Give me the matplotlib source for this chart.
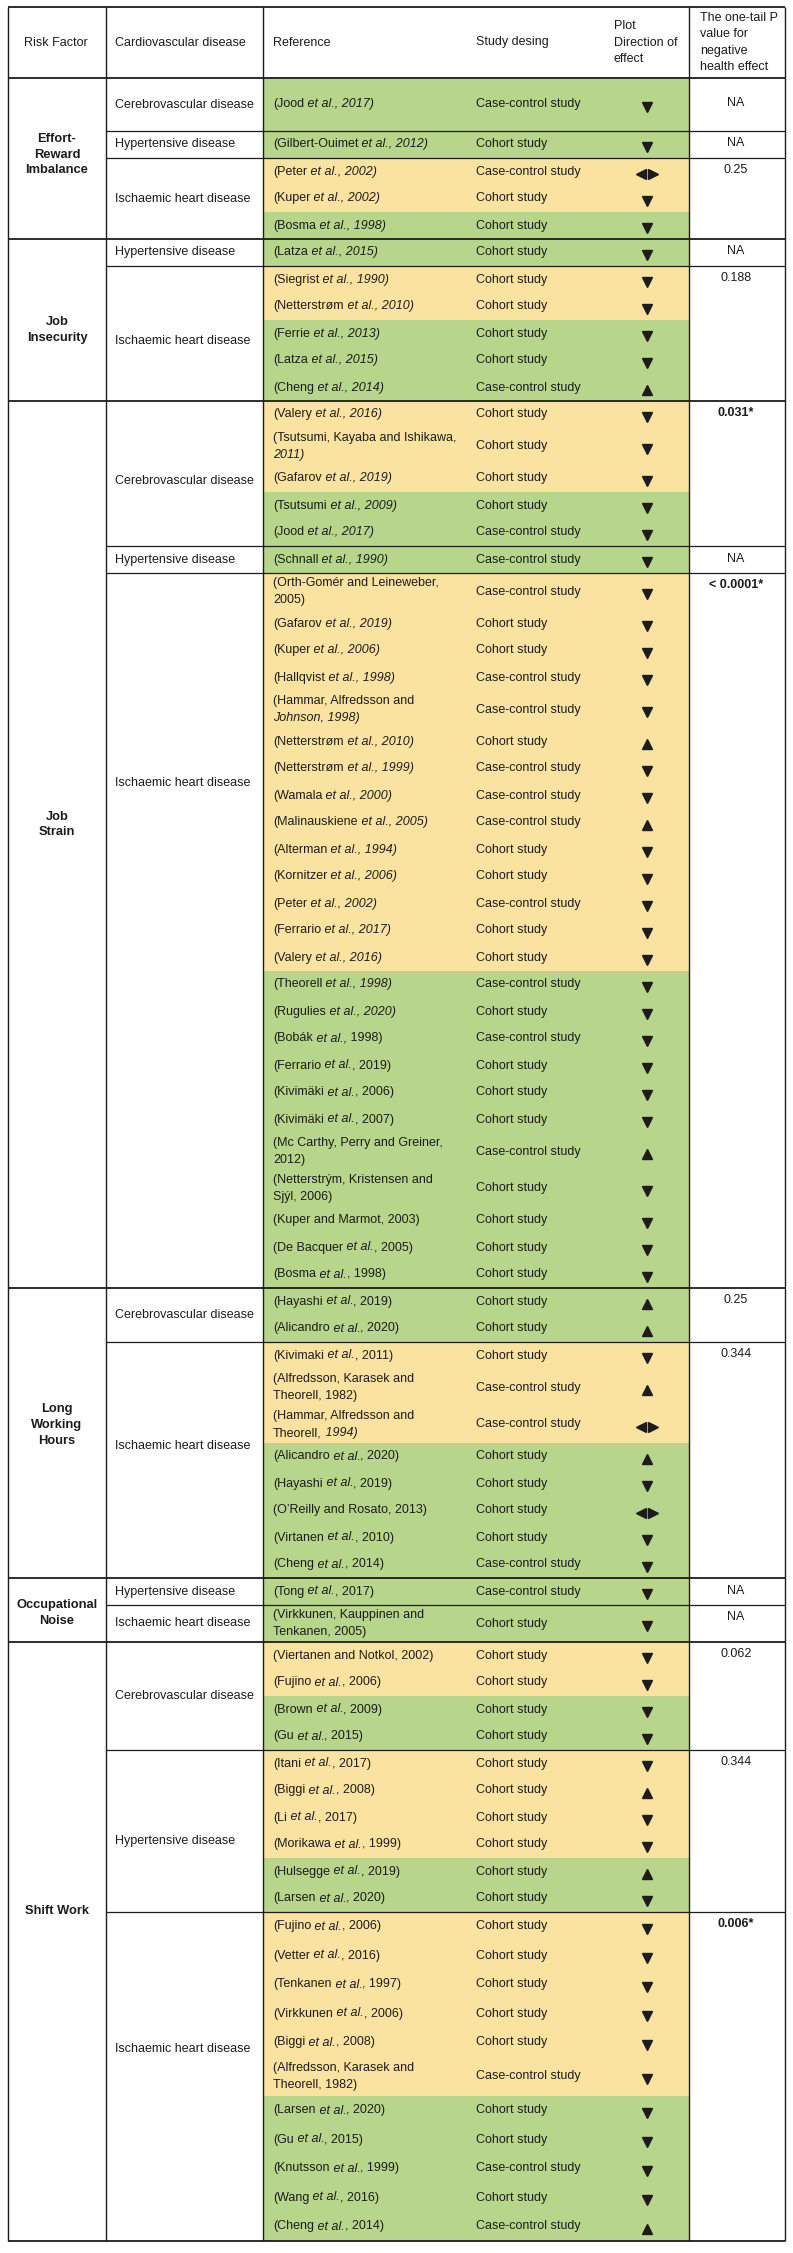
"""Evidence table: psychosocial work risk factors vs cardiovascular disease."""

import matplotlib

matplotlib.use("Agg")  # headless backend

import matplotlib.pyplot as plt  # noqa: E402

plt.rcParams["font.family"] = ["Liberation Sans", "DejaVu Sans"]

# ---------------------------------------------------------------- data
HEADERS = ["Risk Factor", "Cardiovascular disease", "Reference", "Study desing",
           "Plot\nDirection of\neffect", "The one-tail P\nvalue for\nnegative\nhealth effect"]

RISK_FACTORS = ["Effort-\nReward\nImbalance", "Job\nInsecurity", "Job\nStrain",
                "Long\nWorking\nHours", "Occupational\nNoise", "Shift Work"]

# one entry per (risk factor, disease) block
GROUP_RISK = [0, 0, 0, 1, 1, 2, 2, 2, 3, 3, 4, 4, 5, 5, 5]
GROUP_DISEASE = [
    "Cerebrovascular disease", "Hypertensive disease", "Ischaemic heart disease",
    "Hypertensive disease", "Ischaemic heart disease",
    "Cerebrovascular disease", "Hypertensive disease", "Ischaemic heart disease",
    "Cerebrovascular disease", "Ischaemic heart disease",
    "Hypertensive disease", "Ischaemic heart disease",
    "Cerebrovascular disease", "Hypertensive disease", "Ischaemic heart disease",
]
GROUP_P_VALUE = ["NA", "NA", "0.25", "NA", "0.188", "0.031*", "NA", "< 0.0001*",
                 "0.25", "0.344", "NA", "NA", "0.062", "0.344", "0.006*"]
GROUP_SIZE = [1, 1, 3, 1, 5, 5, 1, 25, 2, 8, 1, 1, 4, 6, 11]

# text between *...* is set in italics
REFERENCES = [
    "(Jood *et al., 2017)*",
    "(Gilbert-Ouimet *et al., 2012)*",
    "(Peter *et al., 2002)*", "(Kuper *et al., 2002)*", "(Bosma *et al., 1998)*",
    "(Latza *et al., 2015)*",
    "(Siegrist *et al., 1990)*", "(Netterstrøm *et al., 2010)*", "(Ferrie *et al., 2013)*",
    "(Latza *et al., 2015)*", "(Cheng *et al., 2014)*",
    "(Valery *et al., 2016)*", "(Tsutsumi, Kayaba and Ishikawa,\n*2011)*",
    "(Gafarov *et al., 2019)*", "(Tsutsumi *et al., 2009)*", "(Jood *et al., 2017)*",
    "(Schnall *et al., 1990)*",
    "(Orth-Gomér and Leineweber,\n2005)", "(Gafarov *et al., 2019)*", "(Kuper *et al., 2006)*",
    "(Hallqvist *et al., 1998)*", "(Hammar, Alfredsson and\n*Johnson, 1998)*",
    "(Netterstrøm *et al., 2010)*", "(Netterstrøm *et al., 1999)*", "(Wamala *et al., 2000)*",
    "(Malinauskiene *et al., 2005)*", "(Alterman *et al., 1994)*", "(Kornitzer *et al., 2006)*",
    "(Peter *et al., 2002)*", "(Ferrario *et al., 2017)*", "(Valery *et al., 2016)*",
    "(Theorell *et al., 1998)*", "(Rugulies *et al., 2020)*", "(Bobák *et al.,* 1998)",
    "(Ferrario *et al.*, 2019)", "(Kivimäki *et al.*, 2006)", "(Kivimäki *et al.*, 2007)",
    "(Mc Carthy, Perry and Greiner,\n2012)", "(Netterstrým, Kristensen and\nSjýl, 2006)",
    "(Kuper and Marmot, 2003)", "(De Bacquer *et al.*, 2005)", "(Bosma *et al.*, 1998)",
    "(Hayashi *et al.*, 2019)", "(Alicandro *et al.*, 2020)",
    "(Kivimaki *et al.*, 2011)", "(Alfredsson, Karasek and\nTheorell, 1982)",
    "(Hammar, Alfredsson and\nTheorell, *1994)*", "(Alicandro *et al.*, 2020)",
    "(Hayashi *et al.*, 2019)", "(O’Reilly and Rosato, 2013)", "(Virtanen *et al.*, 2010)",
    "(Cheng *et al.*, 2014)",
    "(Tong *et al.*, 2017)",
    "(Virkkunen, Kauppinen and\nTenkanen, 2005)",
    "(Viertanen and Notkol, 2002)", "(Fujino *et al.*, 2006)", "(Brown *et al.*, 2009)",
    "(Gu *et al.*, 2015)",
    "(Itani *et al.*, 2017)", "(Biggi *et al.*, 2008)", "(Li *et al.*, 2017)",
    "(Morikawa *et al.*, 1999)", "(Hulsegge *et al.*, 2019)", "(Larsen *et al.*, 2020)",
    "(Fujino *et al.*, 2006)", "(Vetter *et al.*, 2016)", "(Tenkanen *et al.*, 1997)",
    "(Virkkunen *et al.*, 2006)", "(Biggi *et al.*, 2008)",
    "(Alfredsson, Karasek and\nTheorell, 1982)", "(Larsen *et al.*, 2020)",
    "(Gu *et al.*, 2015)", "(Knutsson *et al.*, 1999)", "(Wang *et al.*, 2016)",
    "(Cheng *et al.*, 2014)",
]
DESIGNS = [
    "cc", "co", "cc", "co", "co",
    "co", "co", "co", "co", "co", "cc",
    "co", "co", "co", "co", "cc",
    "cc",
    "cc", "co", "co", "cc", "cc", "co", "cc", "cc", "cc", "co", "co", "cc", "co", "co",
    "cc", "co", "cc", "co", "co", "co", "cc", "co", "co", "co", "co",
    "co", "co",
    "co", "cc", "cc", "co", "co", "co", "co", "cc",
    "cc", "co",
    "co", "co", "co", "co",
    "co", "co", "co", "co", "co", "co",
    "co", "co", "co", "co", "co", "cc", "co", "co", "cc", "co", "cc",
]
DIRECTIONS = [
    "down", "down", "both", "down", "down",
    "down", "down", "down", "down", "down", "up",
    "down", "down", "down", "down", "down",
    "down",
    "down", "down", "down", "down", "down", "up", "down", "down", "up", "down", "down",
    "down", "down", "down", "down", "down", "down", "down", "down", "down", "up", "down",
    "down", "down", "down",
    "up", "up",
    "down", "up", "both", "up", "down", "both", "down", "down",
    "down", "down",
    "down", "down", "down", "down",
    "down", "up", "down", "down", "up", "down",
    "down", "down", "down", "down", "down", "down", "down", "down", "down", "down", "up",
]
# Y = yellow shading, G = green shading
SHADING = [
    "G", "G", "Y", "Y", "G",
    "G", "Y", "Y", "G", "G", "G",
    "Y", "Y", "Y", "G", "G",
    "G",
    "Y", "Y", "Y", "Y", "Y", "Y", "Y", "Y", "Y", "Y", "Y", "Y", "Y", "Y",
    "G", "G", "G", "G", "G", "G", "G", "G", "G", "G", "G",
    "G", "G",
    "Y", "Y", "Y", "G", "G", "G", "G", "G",
    "G", "G",
    "Y", "Y", "G", "G",
    "Y", "Y", "Y", "Y", "G", "G",
    "Y", "Y", "Y", "Y", "Y", "Y", "G", "G", "G", "G", "G",
]

# ---------------------------------------------------------------- layout
DESIGN_LABELS = {"co": "Cohort study", "cc": "Case-control study"}
SHADE_COLORS = {"Y": "#fae3a0", "G": "#b7d68b"}
INK = "#1e1b1c"
FONT_SIZE = 9.0

COL_EDGES = [8, 106, 263, 689, 785]
X_REF, X_DESIGN, X_PLOT, X_P = 273, 476, 647, 736
X_DISEASE, X_RISK = 115, 57
TABLE_TOP, HEADER_BOTTOM = 7, 78
ROW_H1, ROW_H2, LINE_STEP = 27.0, 37.0, 17.0
GROUP_MIN_HEIGHT = {0: 53, 14: 329}
RISK_LABEL_SHIFT = {0: -4, 1: 10, 2: -20, 3: -8, 4: 3, 5: -31}
DISEASE_LABEL_SHIFT = {4: 8, 5: 8, 7: -148, 9: -14, 13: 10, 14: -27}


def draw_reference(axes, x, y, markup):
    """Write a reference, switching to italics inside *...* spans."""
    lines = markup.split("\n")
    italic = False
    for k, line in enumerate(lines):
        line_y = y + (k - (len(lines) - 1) / 2) * LINE_STEP
        segments = []
        for j, part in enumerate(line.split("*")):
            if j > 0:
                italic = not italic
            if part:
                segments.append([part, italic])
        # keep the joining space at the start of the following piece
        for j in range(len(segments) - 1):
            if segments[j][0].endswith(" "):
                segments[j][0] = segments[j][0].rstrip(" ")
                segments[j + 1][0] = " " + segments[j + 1][0]
        previous = None
        for text, is_italic in segments:
            style = "italic" if is_italic else "normal"
            if previous is None:
                previous = axes.text(x, line_y, text, ha="left", va="center",
                                     fontsize=FONT_SIZE, fontstyle=style, color=INK)
            else:
                previous = axes.annotate(text, xy=(1, 0), xycoords=previous, ha="left",
                                         va="bottom", fontsize=FONT_SIZE, fontstyle=style,
                                         color=INK)


figure = plt.figure(figsize=(7.93, 22.53), dpi=100)
axes = figure.add_axes([0, 0, 1, 1])
axes.set_xlim(0, 793)
axes.set_ylim(2253, 0)
axes.axis("off")

# row geometry
row_centers, row_heights, group_bounds = [], [], []
cursor, start = HEADER_BOTTOM, 0
for g, size in enumerate(GROUP_SIZE):
    refs = REFERENCES[start:start + size]
    heights = [ROW_H2 if "\n" in r else ROW_H1 for r in refs]
    extra = max(0.0, GROUP_MIN_HEIGHT.get(g, 0) - sum(heights))
    heights = [h + extra / size for h in heights]
    top = cursor
    for h in heights:
        row_centers.append(cursor + h / 2)
        row_heights.append(h)
        cursor += h
    group_bounds.append((top, cursor))
    start += size
table_bottom = cursor

# shaded evidence cells
axes.barh(row_centers, COL_EDGES[3] - COL_EDGES[2], left=COL_EDGES[2], height=row_heights,
          color=[SHADE_COLORS[s] for s in SHADING], linewidth=0, antialiased=False)

# rows: reference, design, direction marker
for i, ref in enumerate(REFERENCES):
    y = row_centers[i]
    draw_reference(axes, X_REF, y, ref)
    axes.text(X_DESIGN, y, DESIGN_LABELS[DESIGNS[i]], ha="left", va="center",
              fontsize=FONT_SIZE, color=INK)
    my = y + 2
    if DIRECTIONS[i] == "both":
        axes.plot([X_PLOT - 6], [my], marker="<", ms=7, color=INK, linestyle="none")
        axes.plot([X_PLOT + 6], [my], marker=">", ms=7, color=INK, linestyle="none")
    else:
        marker = "v" if DIRECTIONS[i] == "down" else "^"
        axes.plot([X_PLOT], [my], marker=marker, ms=7.5, color=INK, linestyle="none")

# disease labels and p values
start = 0
for g, (top, bottom) in enumerate(group_bounds):
    axes.text(X_DISEASE, (top + bottom) / 2 + DISEASE_LABEL_SHIFT.get(g, 0), GROUP_DISEASE[g],
              ha="left", va="center", fontsize=FONT_SIZE, color=INK)
    p_value = GROUP_P_VALUE[g]
    single = GROUP_SIZE[g] == 1 and "\n" not in REFERENCES[start]
    p_y = (top + bottom) / 2 - 1 if single else top + 12
    axes.text(X_P, p_y, p_value, ha="center", va="center", fontsize=FONT_SIZE, color=INK,
              fontweight="bold" if "*" in p_value else "normal")
    start += GROUP_SIZE[g]

# risk factor labels
for r, label in enumerate(RISK_FACTORS):
    idx = [g for g, rr in enumerate(GROUP_RISK) if rr == r]
    top, bottom = group_bounds[idx[0]][0], group_bounds[idx[-1]][1]
    axes.text(X_RISK, (top + bottom) / 2 + RISK_LABEL_SHIFT.get(r, 0), label, ha="center",
              va="center", fontsize=FONT_SIZE + 0.3, fontweight="bold", linespacing=1.4,
              color=INK)

# header
header_y = (TABLE_TOP + HEADER_BOTTOM) / 2
for x, text in zip([24, X_DISEASE, X_REF, X_DESIGN, 614, 700], HEADERS):
    axes.text(x, header_y, text, ha="left", va="center", fontsize=FONT_SIZE,
              linespacing=1.5, color=INK)

# rules
axes.hlines([TABLE_TOP, HEADER_BOTTOM, table_bottom], COL_EDGES[0], COL_EDGES[-1],
            color=INK, linewidth=1.3)
for g in range(1, len(group_bounds)):
    y = group_bounds[g][0]
    if GROUP_RISK[g] != GROUP_RISK[g - 1]:
        axes.hlines(y, COL_EDGES[0], COL_EDGES[-1], color=INK, linewidth=1.3)
    else:
        axes.hlines(y, COL_EDGES[1], COL_EDGES[-1], color=INK, linewidth=0.9)
axes.vlines(COL_EDGES, TABLE_TOP, table_bottom, color=INK, linewidth=1.0)

figure.savefig("out.png", dpi=100)
plt.close(figure)
